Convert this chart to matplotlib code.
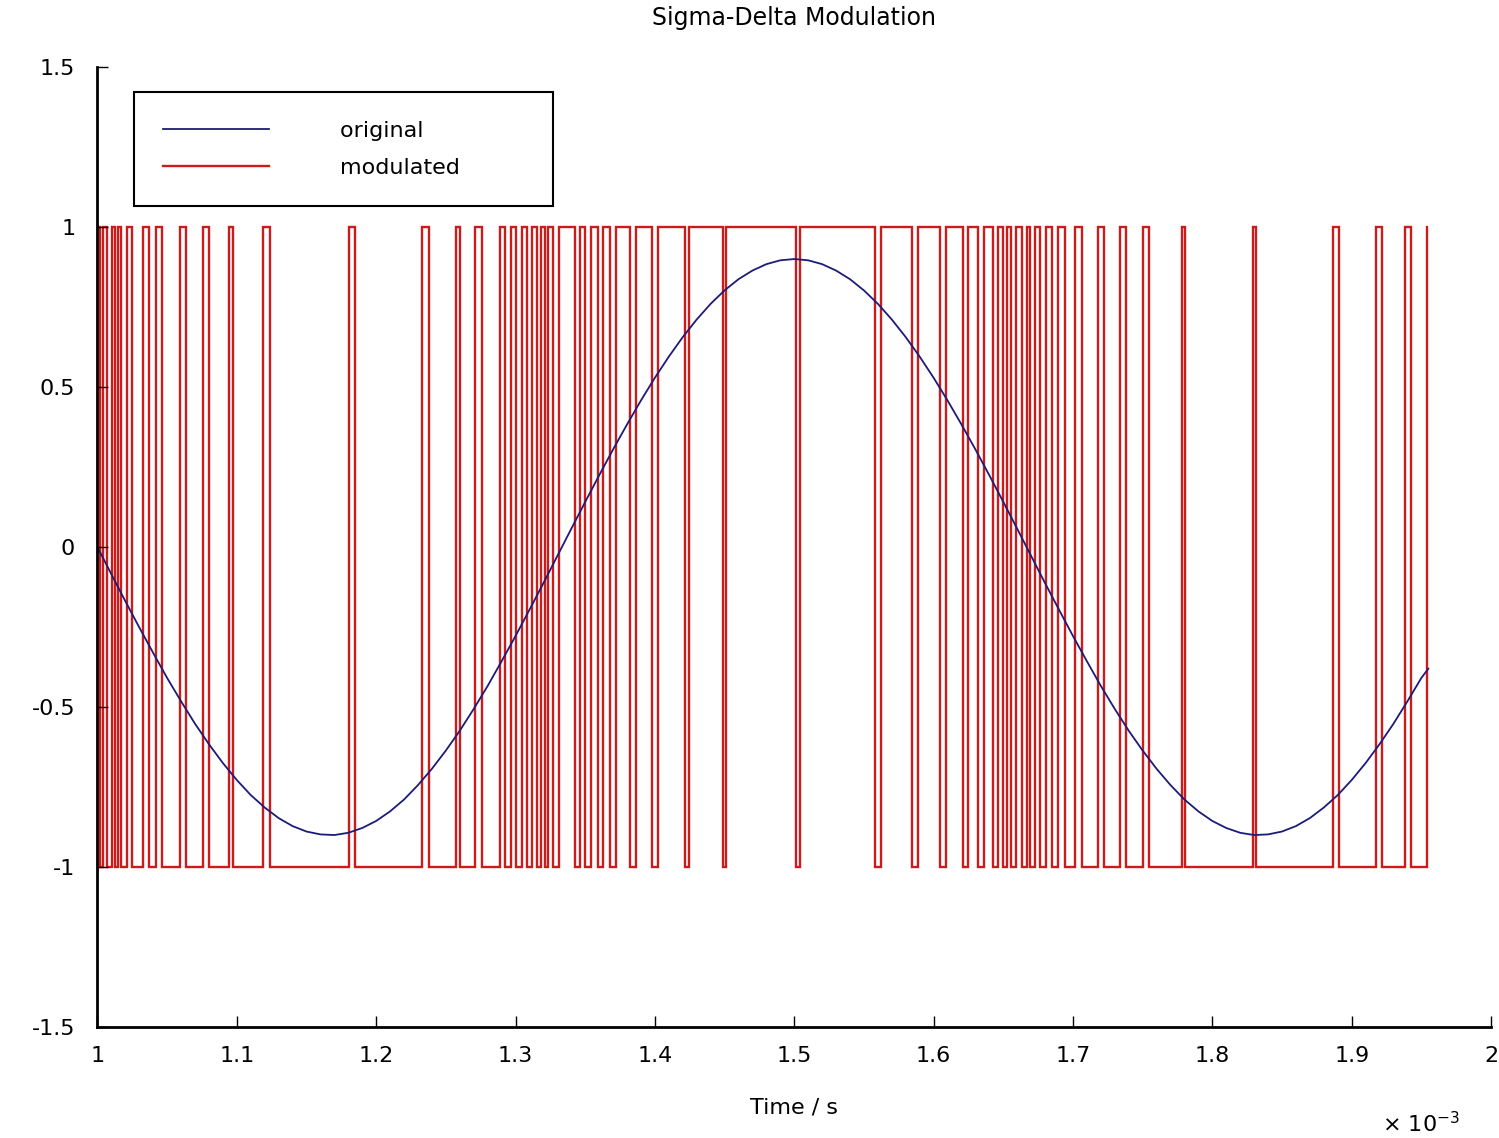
import matplotlib
matplotlib.use('Agg')
import matplotlib.pyplot as plt

# original signal (time in ms, amplitude)
t_orig = [1.00, 1.01, 1.02, 1.03, 1.04, 1.05, 1.06, 1.07, 1.08, 1.09,
          1.10, 1.11, 1.12, 1.13, 1.14, 1.15, 1.16, 1.17, 1.18, 1.19,
          1.20, 1.21, 1.22, 1.23, 1.24, 1.25, 1.26, 1.27, 1.28, 1.29,
          1.30, 1.31, 1.32, 1.33, 1.34, 1.35, 1.36, 1.37, 1.38, 1.39,
          1.40, 1.41, 1.42, 1.43, 1.44, 1.45, 1.46, 1.47, 1.48, 1.49,
          1.50, 1.51, 1.52, 1.53, 1.54, 1.55, 1.56, 1.57, 1.58, 1.59,
          1.60, 1.61, 1.62, 1.63, 1.64, 1.65, 1.66, 1.67, 1.68, 1.69,
          1.70, 1.71, 1.72, 1.73, 1.74, 1.75, 1.76, 1.77, 1.78, 1.79,
          1.80, 1.81, 1.82, 1.83, 1.84, 1.85, 1.86, 1.87, 1.88, 1.89,
          1.90, 1.91, 1.92, 1.93, 1.94, 1.95, 1.955]
y_orig = [0.000, -0.085, -0.169, -0.251, -0.331, -0.409, -0.482, -0.552, -0.616, -0.675,
          -0.728, -0.775, -0.814, -0.847, -0.872, -0.889, -0.898, -0.900, -0.893, -0.878,
          -0.856, -0.826, -0.789, -0.744, -0.693, -0.636, -0.574, -0.506, -0.434, -0.357,
          -0.278, -0.196, -0.113, -0.028, 0.057, 0.141, 0.224, 0.305, 0.383, 0.458,
          0.529, 0.595, 0.656, 0.711, 0.760, 0.802, 0.837, 0.864, 0.884, 0.896,
          0.900, 0.896, 0.884, 0.864, 0.837, 0.802, 0.760, 0.711, 0.656, 0.595,
          0.529, 0.458, 0.383, 0.305, 0.224, 0.141, 0.057, -0.028, -0.113, -0.196,
          -0.278, -0.357, -0.434, -0.506, -0.574, -0.636, -0.693, -0.744, -0.789, -0.826,
          -0.856, -0.878, -0.893, -0.900, -0.898, -0.889, -0.872, -0.847, -0.814, -0.775,
          -0.728, -0.675, -0.616, -0.552, -0.482, -0.409, -0.380]

# modulated signal: switching times (ms); level starts at +1 and flips at each one
mod_start = 1.0
mod_end = 1.9548
mod_first_level = 1
mod_switch = [1.0018, 1.0039, 1.0068, 1.0104, 1.0126, 1.0147, 1.0169, 1.0212, 1.0248,
              1.0327, 1.0370, 1.0420, 1.0463, 1.0592, 1.0635, 1.0757, 1.0800, 1.0944,
              1.0972, 1.1188, 1.1238, 1.1805, 1.1848, 1.2329, 1.2379, 1.2573, 1.2601,
              1.2709, 1.2759, 1.2888, 1.2924, 1.2967, 1.3003, 1.3046, 1.3082, 1.3118,
              1.3154, 1.3183, 1.3211, 1.3233, 1.3269, 1.3312, 1.3427, 1.3463, 1.3498,
              1.3541, 1.3592, 1.3628, 1.3678, 1.3721, 1.3821, 1.3864, 1.3979, 1.4022,
              1.4216, 1.4245, 1.4489, 1.4510, 1.5013, 1.5041, 1.5580, 1.5623, 1.5845,
              1.5888, 1.6046, 1.6089, 1.6211, 1.6247, 1.6319, 1.6362, 1.6426, 1.6462,
              1.6498, 1.6527, 1.6555, 1.6591, 1.6634, 1.6670, 1.6692, 1.6728, 1.6764,
              1.6807, 1.6850, 1.6893, 1.6943, 1.7015, 1.7065, 1.7180, 1.7223, 1.7338,
              1.7381, 1.7503, 1.7546, 1.7783, 1.7804, 1.8292, 1.8314, 1.8866, 1.8909,
              1.9175, 1.9218, 1.9383, 1.9426, 1.9541]

x_ticks = [1.0, 1.1, 1.2, 1.3, 1.4, 1.5, 1.6, 1.7, 1.8, 1.9, 2.0]
y_ticks = [-1.5, -1.0, -0.5, 0.0, 0.5, 1.0, 1.5]

# build step levels
edges = [mod_start] + mod_switch + [mod_end]
levels = [mod_first_level * (-1) ** i for i in range(len(edges) - 1)]

plt.rcParams['font.family'] = ['DejaVu Sans']
fig = plt.figure(figsize=(14.99, 11.38), dpi=100)
ax = fig.add_axes([0.065, 0.0975, 0.9297, 0.8436])

ax.plot(t_orig, y_orig, color='#1c1c78', lw=1.3, label='original')
ax.stairs(levels, edges, baseline=None, color='#cc1b1b', lw=1.7, label='modulated')

ax.set_xlim(1.0, 2.0)
ax.set_ylim(-1.5, 1.5)
ax.set_xticks(x_ticks)
ax.set_yticks(y_ticks)
ax.set_xticklabels(['%g' % v for v in x_ticks])
ax.set_yticklabels(['%g' % v for v in y_ticks])
ax.tick_params(direction='in', length=8, width=1, labelsize=16)
ax.tick_params(axis='x', pad=14)
ax.tick_params(axis='y', pad=16)

for s in ['top', 'right']:
    ax.spines[s].set_visible(False)
for s in ['left', 'bottom']:
    ax.spines[s].set_linewidth(2)

ax.set_title('Sigma-Delta Modulation', fontsize=17, pad=30)
ax.set_xlabel('Time / s', fontsize=16, labelpad=22)
fig.text(0.922, 0.002, r'$\times\ 10^{-3}$', fontsize=16, ha='left', va='bottom')

leg = ax.legend(loc='upper left', bbox_to_anchor=(0.026, 0.974), fontsize=16,
                handlelength=4.8, handletextpad=3.2, borderpad=1.3,
                labelspacing=0.75, fancybox=False, framealpha=1,
                edgecolor='black', borderaxespad=0)
leg.get_frame().set_linewidth(1.5)
# pad the legend frame to the right like the original
for txt in leg.get_texts():
    txt.set_text(txt.get_text() + '         ')

fig.savefig('out.png', dpi=100)
